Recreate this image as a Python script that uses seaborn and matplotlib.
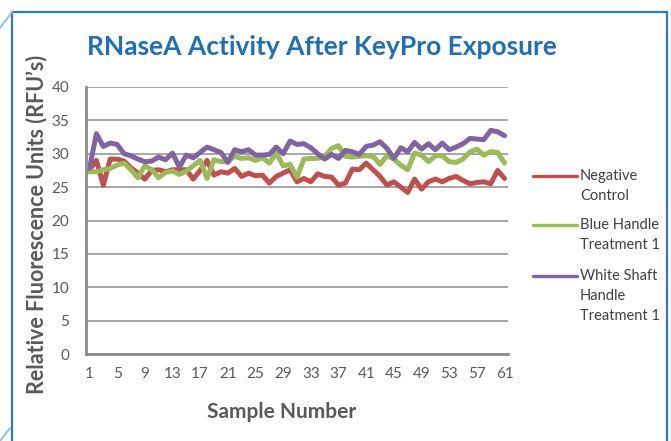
import numpy as np
import pandas as pd
import matplotlib
matplotlib.use("Agg")
import matplotlib.pyplot as plt
from matplotlib.lines import Line2D
from matplotlib.patches import Rectangle
import seaborn as sns

# values (RFU per sample)
samples = list(range(1, 62))
negative_control = [
    27.6, 29.0, 25.3, 29.2, 29.2, 28.9, 27.9, 27.1, 26.2, 27.5,
    27.6, 27.3, 27.6, 27.6, 27.6, 26.2, 27.5, 29.0, 26.8, 27.3,
    27.1, 27.8, 26.6, 27.1, 26.7, 26.8, 25.6, 26.6, 27.1, 27.6,
    25.8, 26.3, 25.8, 27.0, 26.6, 26.5, 25.3, 25.6, 27.7, 27.6,
    28.6, 27.6, 26.6, 25.3, 25.8, 25.0, 24.2, 26.2, 24.7, 25.8,
    26.2, 25.8, 26.3, 26.6, 26.0, 25.5, 25.7, 25.8, 25.5, 27.5,
    26.3,
]
blue_handle = [
    27.3, 27.3, 27.6, 27.8, 28.3, 28.6, 27.6, 26.4, 28.2, 27.6,
    26.4, 27.2, 27.4, 26.9, 27.4, 28.2, 29.0, 26.3, 29.1, 28.8,
    28.9, 29.6, 29.3, 29.4, 29.0, 29.4, 28.6, 30.1, 28.2, 28.4,
    26.5, 29.2, 29.3, 29.3, 29.6, 30.8, 31.2, 29.6, 29.5, 29.6,
    29.7, 29.6, 28.4, 29.7, 29.2, 28.3, 27.6, 30.1, 29.8, 28.8,
    29.7, 29.7, 28.8, 28.7, 29.2, 30.3, 30.7, 29.8, 30.3, 30.2,
    28.6,
]
white_shaft = [
    27.8, 33.0, 31.1, 31.6, 31.4, 30.0, 29.7, 29.2, 28.8, 28.9,
    29.5, 29.1, 30.1, 28.0, 29.8, 29.4, 30.2, 31.0, 30.6, 30.2,
    28.7, 30.6, 30.3, 30.6, 29.8, 29.8, 29.9, 31.0, 30.0, 31.9,
    31.4, 31.5, 30.9, 30.0, 29.2, 29.9, 29.3, 30.5, 30.3, 29.9,
    31.1, 31.3, 31.8, 30.8, 29.3, 30.9, 30.3, 31.7, 30.7, 31.5,
    30.6, 31.6, 30.6, 31.0, 31.5, 32.3, 32.2, 32.1, 33.5, 33.3,
    32.7,
]
series_names = ["Negative\nControl", "Blue Handle\nTreatment 1", "White Shaft\nHandle\nTreatment 1"]
colors = ["#C0504D", "#9BBB59", "#8064A2"]
x_labels = list(range(1, 62, 4))
y_ticks = list(range(0, 41, 5))

df = pd.DataFrame({
    "Sample": samples * 3,
    "RFU": negative_control + blue_handle + white_shaft,
    "Series": [series_names[0]] * 61 + [series_names[1]] * 61 + [series_names[2]] * 61,
})

sns.set_style("white")
plt.rcParams["font.family"] = ["Lato", "DejaVu Sans"]

W, H = 671, 441
fig = plt.figure(figsize=(6.71, 4.41), dpi=100)
ax = fig.add_axes([86 / W, 1 - 354 / H, 422 / W, 267 / H])

sns.lineplot(data=df, x="Sample", y="RFU", hue="Series", hue_order=series_names,
             palette=colors, linewidth=3.6, ax=ax, legend=False)

grey = "#595959"
ax.set_xlim(0.5, 61.5)
ax.set_ylim(0, 40)
ax.set_yticks(y_ticks)
ax.yaxis.grid(True, color="#a6a6a6", linewidth=1.4)
ax.set_axisbelow(True)
ax.set_xticks(x_labels)
ax.set_xticks(np.arange(0.5, 62, 1), minor=True)
ax.tick_params(axis="x", which="major", length=0, pad=9, labelsize=11, labelcolor=grey)
ax.tick_params(axis="x", which="minor", length=5, width=1.2, color="#8c8c8c", direction="out")
ax.tick_params(axis="y", length=7, width=1.2, color="#8c8c8c", labelsize=11, labelcolor=grey, pad=5)
for s in ["top", "right"]:
    ax.spines[s].set_visible(False)
for s in ["left", "bottom"]:
    ax.spines[s].set_color("#8c8c8c")
    ax.spines[s].set_linewidth(2)

ax.set_xlabel("Sample Number", fontsize=15, fontweight="bold", color=grey)
ax.xaxis.set_label_coords((282 - 86) / 422, (354 - 412) / 267)
ax.xaxis.label.set_va("center")
ax.set_ylabel("Relative Fluorescence Units (RFU\u2019s)", fontsize=15.5, fontweight="bold", color=grey)
ax.yaxis.set_label_coords((37 - 86) / 422, (354 - 224) / 267)
ax.yaxis.label.set_va("center")

fig.text(322 / W, 1 - 47 / H, "RNaseA Activity After KeyPro Exposure", ha="center", va="center",
         fontsize=19, fontweight="bold", color="#1F6FB8")

# legend drawn at the reference positions, line level with the first text row
legend_rows = [176, 225, 276]
for name, c, yr in zip(series_names, colors, legend_rows):
    fig.add_artist(Line2D([533 / W, 577 / W], [1 - yr / H, 1 - yr / H], transform=fig.transFigure,
                          color=c, linewidth=2.4))
    for k, line in enumerate(name.split("\n")):
        fig.text(580 / W, 1 - (yr + 20 * k) / H, line, ha="left", va="center",
                 fontsize=10.5, color="#404040")

# blue card border
fig.add_artist(Rectangle((12 / W, -0.05), 655 / W, 1.05 - 12 / H, transform=fig.transFigure,
                         fill=False, edgecolor="#2B7CC4", linewidth=1.6))
fig.add_artist(Line2D([0, 12 / W], [1 - 28 / H, 1 - 12 / H], transform=fig.transFigure,
                      color="#8FBDE6", linewidth=1.4))
fig.add_artist(Line2D([0, 10 / W], [0, 13 / H], transform=fig.transFigure,
                      color="#8FBDE6", linewidth=1.4))

fig.savefig("out.png", dpi=100)
